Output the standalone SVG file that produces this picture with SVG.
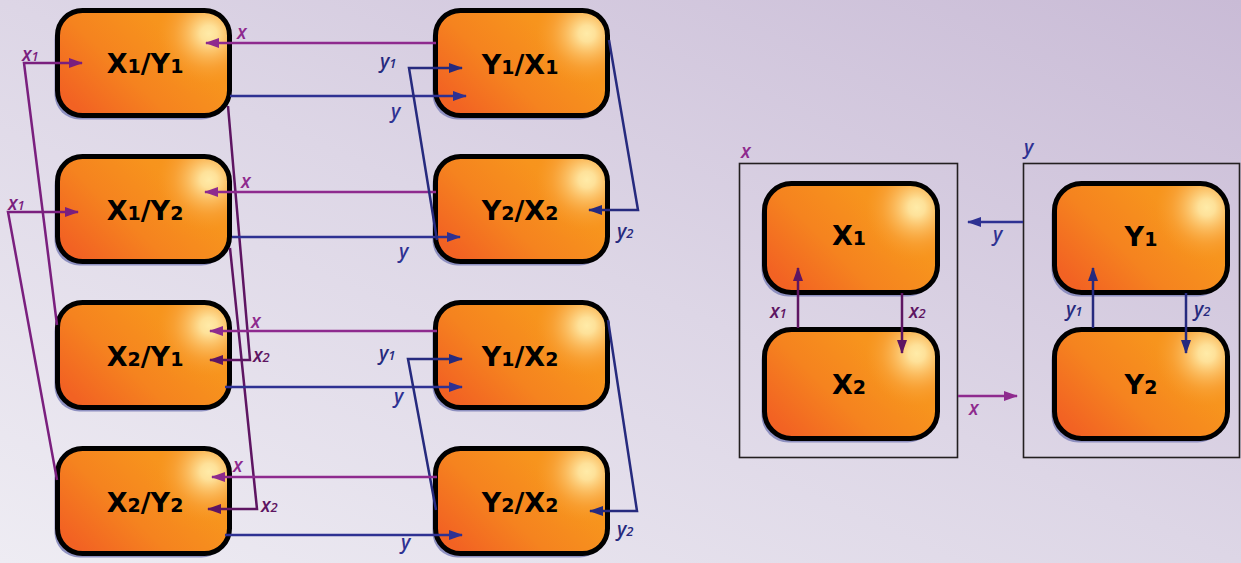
<svg xmlns="http://www.w3.org/2000/svg" width="1241" height="563" viewBox="0 0 1241 563">
<defs>
<linearGradient id="bg" x1="0" y1="1" x2="1" y2="0">
<stop offset="0" stop-color="#EEECF3"/>
<stop offset="0.5" stop-color="#DDD6E6"/>
<stop offset="1" stop-color="#C9BBD6"/>
</linearGradient>
<linearGradient id="nodeBase" x1="0" y1="0.75" x2="0.7" y2="0.3">
<stop offset="0" stop-color="#F26223"/>
<stop offset="0.5" stop-color="#F5831F"/>
<stop offset="1" stop-color="#F7941D"/>
</linearGradient>
<radialGradient id="nodeGlow" cx="0.88" cy="0.22" r="0.6" fx="0.88" fy="0.22" gradientTransform="translate(0.88 0.22) scale(0.62 1) translate(-0.88 -0.22)">
<stop offset="0" stop-color="#FFEBA8" stop-opacity="1"/>
<stop offset="0.13" stop-color="#FEE199" stop-opacity="1"/>
<stop offset="0.3" stop-color="#FCC56D" stop-opacity="0.9"/>
<stop offset="0.55" stop-color="#F9A841" stop-opacity="0.55"/>
<stop offset="0.8" stop-color="#F7961F" stop-opacity="0.2"/>
<stop offset="1" stop-color="#F7941D" stop-opacity="0"/>
</radialGradient>
<marker id="aX" markerWidth="14" markerHeight="10" refX="13" refY="5" orient="auto" markerUnits="userSpaceOnUse"><path d="M0,0 L14,5 L0,10 Z" fill="#8E2A8E"/></marker>
<marker id="aX1" markerWidth="14" markerHeight="10" refX="13" refY="5" orient="auto" markerUnits="userSpaceOnUse"><path d="M0,0 L14,5 L0,10 Z" fill="#7A1F7E"/></marker>
<marker id="aX2" markerWidth="14" markerHeight="10" refX="13" refY="5" orient="auto" markerUnits="userSpaceOnUse"><path d="M0,0 L14,5 L0,10 Z" fill="#5E1562"/></marker>
<marker id="aY" markerWidth="14" markerHeight="10" refX="13" refY="5" orient="auto" markerUnits="userSpaceOnUse"><path d="M0,0 L14,5 L0,10 Z" fill="#2E3192"/></marker>
<marker id="aYd" markerWidth="14" markerHeight="10" refX="13" refY="5" orient="auto" markerUnits="userSpaceOnUse"><path d="M0,0 L14,5 L0,10 Z" fill="#262A7E"/></marker>
<style>
.shadow{fill:#7F83B8;opacity:0.85}
.base{fill:url(#nodeBase)}
.glow{fill:url(#nodeGlow)}
.box{fill:none;stroke:#000;stroke-width:5}
.nt{font-family:"DejaVu Sans","Liberation Sans",sans-serif;font-weight:bold;font-size:27px;fill:#000;text-anchor:middle}
.sub{font-size:19px}
.lb{font-family:"Open Sans","Liberation Sans",sans-serif;font-style:italic;font-weight:600;font-size:19px}
.ls{font-size:13px}
.cx{stroke:#8E2A8E;stroke-width:2.5;fill:none;marker-end:url(#aX)}
.cx1{stroke:#7A1F7E;stroke-width:2.5;fill:none;marker-end:url(#aX1)}
.cx2{stroke:#5E1562;stroke-width:2.5;fill:none;marker-end:url(#aX2)}
.cy{stroke:#2E3192;stroke-width:2.5;fill:none;marker-end:url(#aY)}
.cyd{stroke:#262A7E;stroke-width:2.5;fill:none;marker-end:url(#aYd)}
.tx{fill:#8E2A8E}
.tx1{fill:#7A1F7E}
.tx2{fill:#5E1562}
.ty{fill:#2E3192}
.tyd{fill:#262A7E}
.frame{fill:none;stroke:#231F20;stroke-width:1.6}
</style>
<rect id="nb" x="0" y="0" width="172" height="105" rx="25"/>
<rect id="nb2" x="0" y="0" width="173" height="109" rx="27"/>
</defs>
<rect x="0" y="0" width="1241" height="563" fill="url(#bg)"/>

<g id="frame-x"><rect class="frame" x="739.5" y="163.5" width="218" height="294"/></g>
<g id="frame-y"><rect class="frame" x="1023.5" y="163.5" width="216" height="294"/></g>

<g id="n-x1y1" transform="translate(57.5 10.5)"><use href="#nb" class="shadow" x="-3" y="4"/><use href="#nb" class="base"/><use href="#nb" class="glow"/><use href="#nb" class="box"/><text class="nt" x="87.5" y="62.5">X<tspan class="sub">1</tspan>/Y<tspan class="sub">1</tspan></text></g>
<g id="n-x1y2" transform="translate(57.5 156.5)"><use href="#nb" class="shadow" x="-3" y="4"/><use href="#nb" class="base"/><use href="#nb" class="glow"/><use href="#nb" class="box"/><text class="nt" x="87.5" y="63.5">X<tspan class="sub">1</tspan>/Y<tspan class="sub">2</tspan></text></g>
<g id="n-x2y1" transform="translate(57.5 302.5)"><use href="#nb" class="shadow" x="-3" y="4"/><use href="#nb" class="base"/><use href="#nb" class="glow"/><use href="#nb" class="box"/><text class="nt" x="87.5" y="63.5">X<tspan class="sub">2</tspan>/Y<tspan class="sub">1</tspan></text></g>
<g id="n-x2y2" transform="translate(57.5 448.5)"><use href="#nb" class="shadow" x="-3" y="4"/><use href="#nb" class="base"/><use href="#nb" class="glow"/><use href="#nb" class="box"/><text class="nt" x="87.5" y="63.5">X<tspan class="sub">2</tspan>/Y<tspan class="sub">2</tspan></text></g>

<g id="n-y1x1" transform="translate(435.5 10.5)"><use href="#nb" class="shadow" x="-3" y="4"/><use href="#nb" class="base"/><use href="#nb" class="glow"/><use href="#nb" class="box"/><text class="nt" x="84.5" y="63.5">Y<tspan class="sub">1</tspan>/X<tspan class="sub">1</tspan></text></g>
<g id="n-y2x2a" transform="translate(435.5 156.5)"><use href="#nb" class="shadow" x="-3" y="4"/><use href="#nb" class="base"/><use href="#nb" class="glow"/><use href="#nb" class="box"/><text class="nt" x="84.5" y="63.5">Y<tspan class="sub">2</tspan>/X<tspan class="sub">2</tspan></text></g>
<g id="n-y1x2" transform="translate(435.5 302.5)"><use href="#nb" class="shadow" x="-3" y="4"/><use href="#nb" class="base"/><use href="#nb" class="glow"/><use href="#nb" class="box"/><text class="nt" x="84.5" y="63.5">Y<tspan class="sub">1</tspan>/X<tspan class="sub">2</tspan></text></g>
<g id="n-y2x2b" transform="translate(435.5 448.5)"><use href="#nb" class="shadow" x="-3" y="4"/><use href="#nb" class="base"/><use href="#nb" class="glow"/><use href="#nb" class="box"/><text class="nt" x="84.5" y="63.5">Y<tspan class="sub">2</tspan>/X<tspan class="sub">2</tspan></text></g>

<g id="n-x1" transform="translate(764.5 183.5)"><use href="#nb2" class="shadow" x="-3" y="4"/><use href="#nb2" class="base"/><use href="#nb2" class="glow"/><use href="#nb2" class="box"/><text class="nt" x="84.5" y="61.5">X<tspan class="sub">1</tspan></text></g>
<g id="n-x2" transform="translate(764.5 329.5)"><use href="#nb2" class="shadow" x="-3" y="4"/><use href="#nb2" class="base"/><use href="#nb2" class="glow"/><use href="#nb2" class="box"/><text class="nt" x="84.5" y="64.5">X<tspan class="sub">2</tspan></text></g>
<g id="n-y1" transform="translate(1054.5 183.5)"><use href="#nb2" class="shadow" x="-3" y="4"/><use href="#nb2" class="base"/><use href="#nb2" class="glow"/><use href="#nb2" class="box"/><text class="nt" x="86.5" y="62.5">Y<tspan class="sub">1</tspan></text></g>
<g id="n-y2" transform="translate(1054.5 329.5)"><use href="#nb2" class="shadow" x="-3" y="4"/><use href="#nb2" class="base"/><use href="#nb2" class="glow"/><use href="#nb2" class="box"/><text class="nt" x="86.5" y="64.5">Y<tspan class="sub">2</tspan></text></g>

<g id="connectors">
<path class="cx" d="M436,43 H206"/>
<path class="cy" d="M230,96 H466"/>
<path class="cx1" d="M57,325 L24,63 H82"/>
<path class="cx1" d="M57,480 L8,212 H78"/>
<path class="cx2" d="M228,106 L250,360 H210"/>
<path class="cx2" d="M230,248 L257,509 H208"/>
<path class="cx" d="M436,192 H205"/>
<path class="cy" d="M232,237 H460"/>
<path class="cyd" d="M437,240 L409,68 H462"/>
<path class="cyd" d="M609,40 L638,210 H589"/>
<path class="cx" d="M437,331 H210"/>
<path class="cy" d="M225,387 H462"/>
<path class="cyd" d="M436,510 L408,359 H462"/>
<path class="cyd" d="M608,320 L637,511 H590"/>
<path class="cx" d="M437,477 H212"/>
<path class="cy" d="M225,535 H462"/>

<path class="cy" d="M1023,222 H968"/>
<path class="cx" d="M958,396 H1017"/>
<path class="cx2" d="M798,328 V268"/>
<path class="cx2" d="M902,293 V353"/>
<path class="cyd" d="M1093,328 V268"/>
<path class="cyd" d="M1186,293 V353"/>
</g>

<g id="labels">
<text class="lb tx" x="237" y="39">x</text>
<text class="lb tx1" x="22" y="61">x<tspan class="ls">1</tspan></text>
<text class="lb tx" x="241" y="188">x</text>
<text class="lb tx1" x="8" y="210">x<tspan class="ls">1</tspan></text>
<text class="lb ty" x="391" y="118">y</text>
<text class="lb tyd" x="380" y="68">y<tspan class="ls">1</tspan></text>
<text class="lb ty" x="399" y="258">y</text>
<text class="lb tyd" x="617" y="238">y<tspan class="ls">2</tspan></text>
<text class="lb tx" x="251" y="328">x</text>
<text class="lb tx2" x="253" y="362">x<tspan class="ls">2</tspan></text>
<text class="lb tx" x="233" y="472">x</text>
<text class="lb tx2" x="261" y="512">x<tspan class="ls">2</tspan></text>
<text class="lb tyd" x="379" y="360">y<tspan class="ls">1</tspan></text>
<text class="lb ty" x="394" y="403">y</text>
<text class="lb tyd" x="617" y="536">y<tspan class="ls">2</tspan></text>
<text class="lb ty" x="401" y="549">y</text>

<text class="lb tx" x="741" y="158">x</text>
<text class="lb ty" x="1024" y="154">y</text>
<text class="lb tx2" x="770" y="318">x<tspan class="ls">1</tspan></text>
<text class="lb tx2" x="909" y="318">x<tspan class="ls">2</tspan></text>
<text class="lb tyd" x="1066" y="316">y<tspan class="ls">1</tspan></text>
<text class="lb tyd" x="1194" y="316">y<tspan class="ls">2</tspan></text>
<text class="lb ty" x="993" y="241">y</text>
<text class="lb tx" x="969" y="415">x</text>
</g>
</svg>
